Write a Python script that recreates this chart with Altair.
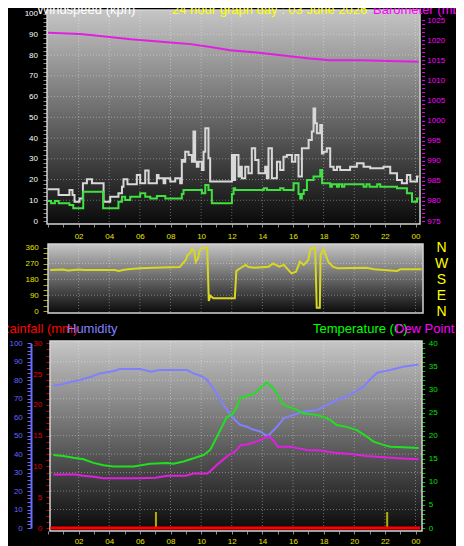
import altair as alt
import pandas as pd

# ---------------- data ----------------
gust_hours = [
    0.00, 0.69, 1.40, 1.60, 1.73, 2.06, 2.28, 2.54, 2.87, 3.63,
    4.06, 4.60, 4.83, 4.93, 5.19, 5.80, 6.02, 6.35, 6.57, 7.11,
    7.22, 7.55, 7.66, 7.98, 8.31, 8.63, 8.74, 8.85, 8.96, 9.18,
    9.40, 9.50, 9.61, 9.72, 9.83, 10.05, 10.16, 10.27, 10.48, 10.59,
    12.01, 12.12, 12.22, 12.44, 12.55, 12.66, 12.88, 13.09, 13.31, 13.53,
    13.75, 14.18, 14.29, 14.40, 14.62, 14.95, 15.16, 15.38, 15.60, 15.93,
    16.15, 16.36, 16.58, 17.02, 17.23, 17.34, 17.45, 17.56, 17.78, 17.89,
    17.99, 18.21, 18.43, 18.65, 18.87, 19.08, 19.73, 20.17, 20.61, 21.04,
    21.91, 22.35, 22.79, 23.11, 23.44, 23.66, 24.10, 24.20]
gust_kph = [
    15.3, 12.5, 14.9, 12.5, 9.3, 10.9, 18.2, 20.1, 18.2, 9.3,
    11.7, 13.4, 16.5, 20.1, 17.7, 22.2, 18.2, 24.3, 18.2, 22.2,
    20.6, 18.2, 20.6, 19.0, 20.6, 18.2, 29.4, 28.6, 33.4, 31.8,
    28.6, 43.1, 28.6, 26.2, 28.6, 24.6, 33.4, 44.7, 30.2, 19.0,
    31.8, 19.8, 31.8, 21.4, 26.2, 20.6, 26.2, 23.0, 35.1, 29.4,
    23.0, 26.2, 20.6, 35.1, 20.6, 28.6, 24.6, 31.0, 31.8, 28.6,
    31.8, 21.4, 35.1, 39.1, 43.1, 54.3, 47.1, 42.3, 46.3, 32.6,
    33.4, 35.1, 26.2, 24.6, 26.2, 24.6, 26.2, 27.8, 26.2, 25.4,
    26.2, 23.0, 19.8, 18.2, 22.2, 19.0, 21.4, 21.4]

avg_hours = [
    0.00, 0.20, 0.45, 0.70, 1.40, 1.65, 2.30, 3.60, 4.60, 4.83,
    5.04, 5.37, 6.02, 6.35, 6.68, 7.11, 7.66, 8.74, 8.85, 10.05,
    10.27, 10.48, 10.70, 12.01, 12.12, 12.22, 14.10, 14.30, 15.16, 15.38,
    16.04, 16.36, 16.47, 16.58, 16.70, 16.91, 17.34, 17.78, 17.90, 18.43,
    18.54, 18.87, 19.00, 19.20, 19.35, 20.61, 20.80, 21.00, 21.50, 21.70,
    22.79, 23.44, 23.77, 24.10, 24.20]
avg_kph = [
    9.6, 8.5, 9.6, 8.5, 7.7, 6.1, 14.1, 6.1, 9.3, 11.7,
    10.1, 11.7, 13.4, 11.7, 10.9, 12.1, 10.9, 13.0, 15.0, 13.4,
    17.4, 15.0, 8.5, 13.0, 15.8, 15.0, 15.8, 15.0, 15.8, 15.0,
    18.2, 13.0, 10.9, 13.0, 15.0, 19.8, 21.4, 24.6, 18.2, 16.5,
    17.7, 16.5, 17.7, 16.5, 17.7, 16.5, 17.7, 16.5, 17.7, 16.5,
    15.8, 13.4, 9.3, 10.9, 10.9]

baro_hours = [0, 2.1, 3.4, 5.4, 8.0, 9.3, 10.6, 11.9, 13.9, 15.8, 17.1, 18.4, 20.4, 22.3, 24.2]
baro_mb = [1021.8, 1021.5, 1021.0, 1020.2, 1019.4, 1019.0, 1018.3, 1017.5, 1016.8,
           1016.0, 1015.4, 1015.0, 1015.0, 1014.8, 1014.6]

dir_hours = [
    0.14, 1.0, 1.3, 2.0, 2.4, 4.4, 4.6, 4.9, 5.2, 6.0,
    6.9, 8.6, 8.8, 9.0, 9.1, 9.3, 9.4, 9.55, 9.65, 9.8,
    9.9, 10.1, 10.4, 10.5, 10.6, 10.8, 12.2, 12.3, 12.55, 12.9,
    13.1, 13.5, 14.4, 14.7, 15.1, 15.4, 15.9, 16.2, 16.45, 16.7,
    17.0, 17.15, 17.45, 17.55, 17.75, 17.8, 18.0, 18.3, 18.6, 18.9,
    20.8, 21.3, 22.8, 23.0, 24.4]
dir_deg = [
    233, 236, 231, 236, 233, 233, 228, 233, 237, 243,
    246, 250, 271, 290, 318, 330, 353, 340, 280, 300,
    345, 360, 360, 57, 87, 72, 72, 228, 243, 262,
    250, 246, 252, 271, 252, 262, 214, 224, 280, 262,
    290, 356, 360, 19, 19, 318, 353, 280, 252, 243,
    246, 237, 228, 237, 237]

hum_hours = [
    0.35, 1.0, 1.5, 2.1, 2.8, 3.4, 4.3, 4.7, 6.0, 6.3,
    6.7, 7.3, 9.07, 9.5, 10.0, 10.4, 10.8, 11.25, 11.7, 12.1,
    12.55, 13.0, 13.4, 13.9, 14.3, 14.5, 14.95, 15.4, 16.0, 16.7,
    17.6, 18.2, 18.9, 19.7, 20.6, 21.0, 21.5, 22.35, 23.2, 24.1, 24.2]
hum_pct = [
    77, 78, 79.2, 80.1, 81.9, 83.7, 85.0, 86.1, 86.1, 85.5,
    84.6, 85.5, 85.5, 83.7, 82.3, 80.1, 75.6, 69.3, 63.9, 59.4,
    55.8, 54.8, 53.3, 52.1, 49.8, 51.0, 54.8, 59.4, 61.2, 63.0,
    63.9, 66.6, 69.3, 72.0, 76.5, 80.1, 84.1, 85.5, 87.3, 88.4, 88.4]

temp_hours = [
    0.35, 1.0, 1.67, 2.32, 2.97, 3.63, 4.28, 5.59, 6.67, 7.76,
    8.2, 8.85, 9.51, 10.16, 10.59, 10.81, 11.14, 11.36, 11.68, 12.01,
    12.34, 12.55, 12.99, 13.42, 13.86, 14.29, 14.62, 14.95, 15.27, 15.6,
    16.25, 16.69, 17.56, 18.0, 18.43, 18.86, 19.51, 20.17, 20.82, 21.26,
    21.91, 22.35, 23.22, 24.2]
temp_c = [
    15.8, 15.6, 15.2, 14.9, 14.1, 13.6, 13.3, 13.3, 13.9, 14.1,
    13.9, 14.4, 15.1, 15.8, 16.9, 18.3, 20.5, 21.9, 24.1, 24.5,
    26.3, 28.1, 28.6, 29.0, 30.3, 31.5, 30.6, 29.2, 27.0, 26.4,
    25.6, 24.8, 24.5, 24.0, 23.4, 22.3, 21.9, 21.2, 19.8, 18.7,
    18.0, 17.6, 17.5, 17.3]

dew_hours = [
    0.35, 1.8, 2.3, 3.0, 3.6, 6.0, 7.0, 7.8, 9.0, 9.5,
    10.4, 10.7, 11.0, 11.4, 11.8, 12.2, 12.6, 13.0, 13.4, 13.9,
    14.4, 14.7, 15.0, 15.8, 16.3, 16.9, 17.8, 18.7, 19.8, 20.8,
    21.9, 22.9, 24.2]
dew_c = [
    11.6, 11.6, 11.3, 11.1, 10.8, 10.8, 10.9, 11.3, 11.3, 11.8,
    11.8, 12.6, 13.6, 14.7, 15.8, 16.5, 18.0, 18.1, 18.5, 19.1,
    19.9, 19.1, 17.6, 17.6, 17.3, 16.9, 16.8, 16.3, 16.0, 15.6,
    15.3, 15.1, 14.9]

rain_hours = [0.15, 24.3]
rain_mm = [0, 0]
rainbar_hours = [7.05, 22.15]
rainbar_mm = [2.6, 2.6]

hour_ticks = list(range(0, 25))
grid_hours = [2, 4, 6, 8, 10, 12, 14, 16, 18, 20, 22, 24]
wind_grid = [10, 20, 30, 40, 50, 60, 70, 80, 90]
dir_grid = [90, 180, 270]
hum_grid = [10, 20, 30, 40, 50, 60, 70, 80, 90]

top_titles = ["Windspeed (kph)", "24 hour graph day : 03 June 2026", "Barometer (mb)"]
bottom_titles = ["Rainfall (mm)", "Humidity", "Temperature (C)", "Dew Point (C)"]

# ---------------- layout ----------------
W, H = 448, 538
FONT = "Liberation Sans"
one = pd.DataFrame({"k": [0]})

XS = alt.Scale(domain=[0, 24], range=[40, 407.5], nice=False, zero=False)


def ysc(d0, d1, r0, r1):
    return alt.Scale(domain=[d0, d1], range=[r0, r1], nice=False, zero=False)


WIND = ysc(0, 100, 213, 5.6)
BARO = ysc(975, 1025, 213, 12)
DIR = ysc(0, 360, 303, 239.7)
HUM = ysc(0, 100, 520, 335.3)
RAIN = ysc(0, 30, 520, 335.3)
TEMP = ysc(0, 40, 520, 335.3)

XLAB = ("datum.value % 2 == 0 && datum.value > 0 ? (datum.value == 24 ? '00' : "
        "(datum.value < 10 ? '0' + datum.value : '' + datum.value)) : ''")


def every(n):
    return "datum.value % " + str(n) + " == 0 ? datum.label : ''"


def xenc(axis=None):
    return alt.X("h:Q", scale=XS, axis=axis)


def panel(x0, x1, y0, y1):
    grad = alt.LinearGradient(
        gradient="linear",
        stops=[alt.GradientStop(color="#c6c6c6", offset=0),
               alt.GradientStop(color="#0a0a0a", offset=1)],
        x1=0, x2=0, y1=0, y2=1)
    return alt.Chart(one).mark_rect(fill=grad, stroke="#d4d4d4", strokeWidth=1.5).encode(
        x=alt.value(x0), x2=alt.value(x1), y=alt.value(y0), y2=alt.value(y1))


def hgrid(vals, scale, x0, x1):
    return alt.Chart(pd.DataFrame({"v": vals})).mark_rule(
        color="#ffffff", opacity=0.35, strokeDash=[1, 2], strokeWidth=1).encode(
        y=alt.Y("v:Q", scale=scale, axis=None), x=alt.value(x0), x2=alt.value(x1))


def vgrid(y0, y1):
    return alt.Chart(pd.DataFrame({"h": grid_hours})).mark_rule(
        color="#ffffff", opacity=0.35, strokeDash=[1, 2], strokeWidth=1).encode(
        x=xenc(), y=alt.value(y0), y2=alt.value(y1))


def line(h, v, scale, color, width=2, interp="linear", yaxis=None, xaxis=None):
    df = pd.DataFrame({"h": h, "v": v})
    return alt.Chart(df).mark_line(color=color, strokeWidth=width, interpolate=interp).encode(
        x=xenc(xaxis), y=alt.Y("v:Q", scale=scale, axis=yaxis))


def text(t, x, y, color, size=13):
    return alt.Chart(one).mark_text(text=t, align="left", baseline="alphabetic",
                                    color=color, fontSize=size, font=FONT).encode(
        x=alt.value(x), y=alt.value(y))


# ---------------- axes ----------------
ax_wind = alt.Axis(orient="left", offset=-38.5, values=list(range(0, 101, 2)), format="d",
                   labelExpr=every(10), labelColor="#ffffff", labelFontSize=8,
                   tickColor="#8c8c8c", tickSize=3.5, labelPadding=5.5, title=None)
ax_baro = alt.Axis(orient="right", offset=413.5 - W, values=list(range(975, 1026)), format="d",
                   labelExpr=every(5), labelColor="#ff00ff", labelFontSize=8,
                   tickColor="#e000e0", tickSize=3, labelPadding=2.3, title=None)
ax_xtop = alt.Axis(orient="bottom", offset=216 - H, values=hour_ticks, format="d",
                   labelExpr=XLAB, labelColor="#e4e400", labelFontSize=8,
                   tickColor="#8c8c8c", tickSize=3, labelPadding=5, title=None)
ax_dir = alt.Axis(orient="left", offset=-39.5, values=list(range(0, 361, 30)), format="d",
                  labelExpr=every(90), labelColor="#e4e400", labelFontSize=8,
                  tickColor="#a8a800", tickSize=4.5, labelPadding=4.7, title=None)
ax_nwsen = alt.Axis(orient="right", offset=415 - W, values=[0, 90, 180, 270, 360],
                    labelExpr="datum.value == 90 ? 'E' : datum.value == 180 ? 'S' : datum.value == 270 ? 'W' : 'N'",
                    labelColor="#ffff00", labelFontSize=14, labelAlign="center",
                    labelPadding=18, ticks=False, tickSize=0, title=None)
ax_hum = alt.Axis(orient="left", offset=-23, values=list(range(0, 101, 2)), format="d",
                  labelExpr=every(10), labelColor="#6464ff", labelFontSize=8,
                  tickColor="#6c6cff", tickSize=4, labelPadding=4.7,
                  domain=True, domainColor="#6c6cff", domainWidth=2, title=None)
ax_rain = alt.Axis(orient="left", offset=-42, values=list(range(0, 31)), format="d",
                   labelExpr=every(5), labelColor="#e00000", labelFontSize=8,
                   tickColor="#d00000", tickSize=4, labelPadding=4.3, title=None)
ax_temp = alt.Axis(orient="right", offset=413.7 - W, values=list(range(0, 41)), format="d",
                   labelExpr=every(5), labelColor="#00e000", labelFontSize=8,
                   tickColor="#00c800", tickSize=3, labelPadding=3.6, title=None)
ax_xbot = alt.Axis(orient="bottom", offset=523 - H, values=hour_ticks, format="d",
                   labelExpr=XLAB, labelColor="#e4e400", labelFontSize=8,
                   tickColor="#8c8c8c", tickSize=3, labelPadding=3.5, title=None)

# ---------------- layers ----------------
layers = [
    panel(39, 412, 2, 216),
    panel(40, 415, 236, 305),
    panel(42, 414, 333, 523),
    hgrid(wind_grid, WIND, 40, 411),
    vgrid(3, 215),
    hgrid(dir_grid, DIR, 41, 414),
    vgrid(237, 304),
    hgrid(hum_grid, HUM, 43, 413),
    vgrid(334, 522),
    # top panel
    line(baro_hours, baro_mb, BARO, "#e020e0", yaxis=ax_baro),
    line(gust_hours, gust_kph, WIND, "#d8d8d8", interp="step-after", yaxis=ax_wind, xaxis=ax_xtop),
    line(avg_hours, avg_kph, WIND, "#40e040", interp="step-after"),
    # middle panel
    line(dir_hours, dir_deg, DIR, "#d8d820", yaxis=ax_dir),
    alt.Chart(pd.DataFrame({"h": dir_hours, "v": dir_deg})).mark_point(opacity=0).encode(
        x=xenc(), y=alt.Y("v:Q", scale=DIR, axis=ax_nwsen)),
    # bottom panel
    alt.Chart(pd.DataFrame({"h": rainbar_hours, "v": rainbar_mm, "z": [0, 0]})).mark_rule(
        color="#b0b000", strokeWidth=2).encode(
        x=xenc(), y=alt.Y("v:Q", scale=RAIN, axis=None), y2="z:Q"),
    line(hum_hours, hum_pct, HUM, "#8080ff", yaxis=ax_hum),
    line(dew_hours, dew_c, TEMP, "#e020e0"),
    line(temp_hours, temp_c, TEMP, "#20e020", yaxis=ax_temp, xaxis=ax_xbot),
    line(rain_hours, rain_mm, RAIN, "#ff0000", width=3, yaxis=ax_rain),
    # titles
    text(top_titles[0], 29, 6, "#ffffff"),
    text(top_titles[1], 164, 6, "#ffff00"),
    text(top_titles[2], 365, 6, "#ff00ff"),
    text(bottom_titles[0], -8, 324.7, "#ff0000"),
    text(bottom_titles[1], 59, 324.7, "#8080ff"),
    text(bottom_titles[2], 305, 324.7, "#00ff00"),
    text(bottom_titles[3], 387, 324.7, "#ff00ff"),
]

chart = alt.layer(*layers).resolve_scale(
    x="independent", y="independent"
).resolve_axis(
    x="independent", y="independent"
).properties(
    width=W, height=H, background="#000000", padding=0,
    autosize=alt.AutoSizeParams(type="none"),
).configure_view(strokeWidth=0).configure_axis(
    labelFont=FONT, labelOverlap=False, labelFlush=False, grid=False, domain=False
)

chart.save("out.html", embed_options={"renderer": "svg", "actions": False})
